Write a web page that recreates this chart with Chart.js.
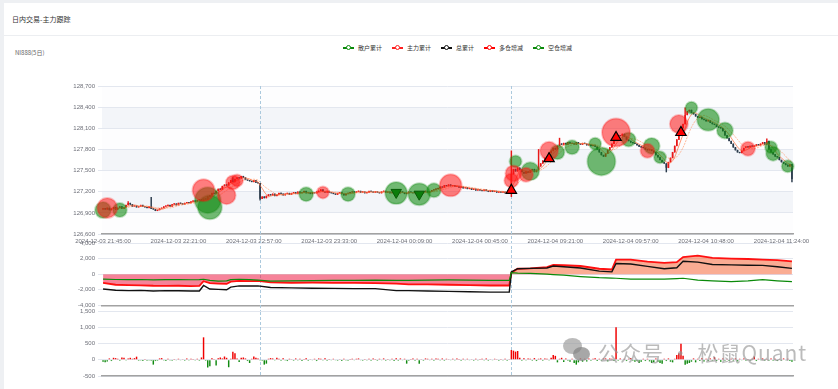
<!DOCTYPE html>
<html lang="zh">
<head>
<meta charset="UTF-8">
<title>日内交易-主力跟踪</title>
<script src="https://cdn.jsdelivr.net/npm/chart.js@4.4.1/dist/chart.umd.min.js"></script>
<style>
  body { margin: 0; width: 838px; height: 389px; background: #eef0f3; overflow: hidden;
         font-family: "Liberation Sans", "Noto Sans CJK SC", sans-serif; }
  .card { position: absolute; left: 4px; top: 3px; right: 0; bottom: 0; background: #fff; }
  .title { position: absolute; left: 12px; top: 14px; font-size: 7px; color: #333;
           font-family: "Noto Sans CJK SC", sans-serif; }
  .sep { position: absolute; left: 4px; right: 0; top: 35px; height: 1px; background: #eceef1; }
  .ylab { position: absolute; left: 15px; top: 48px; font-size: 6px; color: #666;
          font-family: "Noto Sans CJK SC", sans-serif; }
  .legend { position: absolute; top: 44px; left: 343px; display: flex; gap: 10px;
            font-size: 6px; color: #333; font-family: "Noto Sans CJK SC", sans-serif; line-height: 8px; }
  .legend span { display: flex; align-items: center; }
  .legend i { display: inline-block; position: relative; width: 11px; height: 1.5px; margin-right: 4px; }
  .legend i::after { content: ''; position: absolute; left: 2.5px; top: -2.6px; width: 3.5px; height: 3.5px;
                     border: 1.5px solid; border-color: inherit; border-radius: 50%; background: #fff; }
  canvas { position: absolute; left: 0; }
  .wm { position: absolute; left: 598px; top: 337px; font-size: 21px; color: rgba(150,150,150,0.65);
        font-family: "Noto Sans CJK SC", sans-serif; letter-spacing: 1px; }
  .wx1, .wx2 { position: absolute; border-radius: 50%; background: rgba(150,150,150,0.65); }
  .wx1 { left: 563px; top: 338px; width: 19px; height: 16px; }
  .wx2 { left: 573px; top: 347px; width: 17px; height: 14px; background: rgba(130,130,130,0.7); }
</style>
</head>
<body>
<div class="card"></div>
<div class="title">日内交易-主力跟踪</div>
<div class="sep"></div>
<div class="ylab">NI888(5日)</div>
<div class="legend" id="legend"></div>
<canvas id="main" width="838" height="180" style="top:70px"></canvas>
<canvas id="flow" width="838" height="76" style="top:236px"></canvas>
<canvas id="net" width="838" height="80" style="top:304px"></canvas>
<div class="wx1"></div><div class="wx2"></div>
<div class="wm">公众号 · 松鼠Quant</div>
<script>
// trading sessions (one bar per minute)
const sessions = [
  ['2024-12-03', '21:45', '23:59'],
  ['2024-12-04', '00:00', '00:59'],
  ['2024-12-04', '09:00', '10:14'],
  ['2024-12-04', '10:30', '11:29']
];
const breakLabels = ['2024-12-03 23:00:00', '2024-12-04 09:00:00'];
const legendNames = ['散户累计', '主力累计', '总累计', '多仓增减', '空仓增减'];
const legendColors = ['#0a8a0a', '#ff2020', '#111111', '#ff0000', '#0a8a0a'];

// minute closes
const firstOpen = 126950;
const closes = [
  126960,126950,126970,126940,126960,126980,126950,126970,126990,126960,
  126980,127010,127040,127020,126990,127000,126980,126990,127010,126990,
  126980,126970,126990,126960,126950,126930,126940,126960,126970,126990,
  127000,127010,126990,127020,127030,127010,127040,127030,127020,127040,
  127050,127040,127060,127070,127060,127080,127090,127070,127100,127090,
  127130,127150,127180,127170,127210,127240,127230,127280,127300,127290,
  127330,127360,127340,127380,127400,127390,127420,127400,127370,127360,
  127350,127340,127360,127330,127320,127100,127130,127110,127140,127160,
  127150,127170,127140,127160,127180,127170,127150,127170,127180,127160,
  127180,127190,127170,127200,127180,127190,127210,127180,127190,127170,
  127190,127180,127200,127210,127230,127200,127190,127210,127190,127180,
  127170,127160,127180,127190,127170,127150,127170,127180,127190,127200,
  127190,127200,127210,127190,127200,127180,127190,127210,127200,127190,
  127200,127190,127180,127200,127210,127190,127200,127180,127190,127200,
  127190,127180,127200,127190,127170,127180,127200,127190,127180,127200,
  127190,127170,127180,127200,127210,127190,127200,127220,127230,127240,
  127250,127270,127260,127290,127280,127300,127280,127290,127270,127280,
  127260,127270,127250,127260,127240,127250,127230,127240,127220,127230,
  127220,127210,127230,127210,127200,127220,127200,127210,127190,127200,
  127190,127200,127180,127190,127200,127450,127520,127490,127540,127510,
  127480,127460,127490,127470,127500,127520,127480,127510,127560,127600,
  127640,127680,127700,127750,127780,127820,127800,127850,127880,127870,
  127890,127870,127900,127880,127890,127870,127900,127880,127870,127890,
  127880,127860,127870,127850,127860,127840,127800,127760,127720,127700,
  127740,127790,127830,127880,127920,127960,128000,127990,128020,127980,
  127940,127920,127900,127890,127880,127860,127840,127830,127820,127800,
  127790,127800,127780,127760,127720,127690,127650,127620,127600,127540,
  127620,127680,127760,127850,127940,128020,128100,128160,128290,128340,
  128360,128320,128300,128270,128250,128260,128230,128220,128200,128210,
  128180,128160,128150,128120,128110,128100,128060,128000,127960,127920,
  127880,127830,127790,127760,127750,127780,127820,127840,127830,127850,
  127840,127850,127870,127860,127880,127900,127870,127920,127800,127760,
  127730,127700,127690,127650,127620,127600,127580,127560,127590,127380
];
// long shadows
const wickIdx  = [12, 23, 62, 75, 195, 208, 218, 269, 278, 317, 329];
const wickHigh = [127060, 127120, 127400, null, 127780, 127800, 127960, null, 128390, 127950, null];
const wickLow  = [null, null, null, 127080, 127130, null, null, 127480, null, null, 127340];

// 多仓增减 bubbles
const longIdx  = [2, 48, 59, 62, 64, 105, 166, 195, 196, 202, 213, 245, 260, 275, 308];
const longPx   = [126970, 127220, 127150, 127330, 127360, 127190, 127290, 127360, 127460, 127440, 127780, 128040, 127780, 128160, 127810];
const longSize = [10, 11, 9, 7, 6, 6, 11, 7, 8, 7, 9, 14, 7, 9, 7];
// 空仓增减 bubbles
const shortIdx  = [0, 8, 50, 51, 97, 117, 140, 151, 158, 197, 204, 217, 224, 235, 238, 251, 262, 266, 281, 289, 297, 319, 320, 327];
const shortPx   = [126940, 126940, 127080, 126980, 127165, 127165, 127180, 127165, 127220, 127630, 127490, 127760, 127830, 127880, 127630, 127940, 127850, 127690, 128390, 128220, 128070, 127830, 127740, 127560];
const shortSize = [8, 7, 13, 12, 7, 7, 11, 11, 7, 6, 9, 7, 7, 6, 14, 7, 8, 6, 6, 11, 8, 6, 7, 6];
// signals
const buyIdx  = [195, 213, 245, 276];
const buyPx   = [127220, 127670, 127970, 128040];
const sellIdx = [140, 151];
const sellPx  = [127190, 127165];

// cumulative flows (sampled)
const flowIdx = [0, 6, 12, 18, 24, 30, 36, 42, 46, 48, 51, 55, 59, 61, 65, 70, 74, 80, 90, 100, 110, 120, 130, 140, 146, 155, 165, 175, 185, 194,
                 195, 198, 204, 212, 215, 220, 228, 237, 243, 245, 252, 260, 268, 274, 277, 284, 291, 300, 308, 315, 322, 329];
const retailCum = [-625, -680, -700, -680, -720, -700, -690, -710, -700, -650, -800, -900, -850, -700, -650, -700, -750, -880, -850, -820, -800, -780, -760, -800, -780, -750, -740, -760, -780, -800,
                   200, 150, 100, 0, -50, -125, -300, -450, -500, -520, -625, -620, -625, -560, -520, -750, -850, -960, -850, -700, -850, -960];
const mainCum = [-1125, -1350, -1400, -1420, -1480, -1500, -1480, -1520, -1500, -900, -1150, -1200, -1250, -950, -850, -880, -850, -1050, -1100, -1080, -1100, -1120, -1150, -1200, -1300, -1300, -1350, -1400, -1450, -1450,
                 200, 700, 750, 900, 1200, 1150, 1050, 700, 600, 1875, 1875, 1600, 1450, 1550, 2200, 2375, 2100, 2000, 1950, 1875, 1800, 1650];
const totalCum = [-1900, -2050, -2100, -2080, -2150, -2100, -2120, -2150, -2150, -1450, -1900, -1950, -2000, -1650, -1500, -1520, -1500, -1700, -1750, -1800, -1820, -1850, -1850, -2100, -2100, -2150, -2200, -2250, -2300, -2300,
                  300, 700, 750, 800, 1050, 950, 800, 400, 300, 1375, 1300, 1000, 700, 825, 1650, 1550, 1250, 1200, 1150, 1125, 950, 750];

// per-minute net main flow
const netFlow = [
  -60,-80,-50,40,-40,60,50,30,-30,70,
  60,-20,40,60,30,50,95,-30,-20,-40,
  20,-30,-20,-30,-150,-40,-30,40,50,-20,
  -40,30,-20,-30,20,-20,30,-20,20,-30,
  40,-20,30,20,-20,30,-30,70,690,-30,
  -240,-200,50,20,-180,50,70,40,100,60,
  -230,30,250,200,40,-70,60,70,40,-40,
  -100,30,100,60,40,-20,-30,-150,-120,30,
  50,40,-20,60,30,-30,50,-20,-40,30,
  20,-30,40,-20,30,-40,20,50,-30,20,
  -20,30,-40,40,30,-20,50,-30,20,-20,
  30,-20,-30,20,-40,30,-20,-30,20,30,
  -20,30,40,-20,-30,20,-20,30,-30,40,
  20,-30,30,-20,40,-30,20,-20,30,-40,
  50,-30,40,-20,30,-120,-30,20,40,-30,
  30,-120,20,-30,40,30,-20,30,-30,40,
  30,-20,40,-30,30,20,-20,30,-20,40,
  20,-30,30,-20,30,-20,20,-30,30,-20,
  20,30,-20,40,-30,20,-20,30,20,-30,
  20,-20,30,-30,20,300,280,250,270,60,
  -30,50,-20,40,30,-30,50,-40,30,40,
  -30,40,30,-20,60,150,120,-80,30,60,
  -70,40,-30,-60,30,-100,-150,-80,40,-60,
  30,-50,40,-30,30,50,-40,30,-30,40,
  40,-50,40,30,-40,1000,-30,40,-20,30,
  -40,30,50,-30,-60,-40,-100,-60,30,-40,
  30,-50,-100,-80,40,-60,-100,-120,30,-40,
  40,-60,-80,30,150,200,490,120,-150,-120,
  -100,-60,40,-80,30,-40,50,-50,30,-40,
  40,-30,80,-40,30,-60,40,-30,20,-40,
  30,-30,40,-50,30,-20,40,-30,20,-30,
  30,100,-40,30,-20,40,-30,20,-30,40,
  -30,30,-40,20,-30,40,-20,30,-40,-60
];

// ---- build labels ----
const labels = [];
const toMin = s => Number(s.slice(0, 2)) * 60 + Number(s.slice(3, 5));
sessions.forEach(([day, from, to]) => {
  for (let m = toMin(from); m <= toMin(to); m++) {
    const hh = String(Math.floor(m / 60)).padStart(2, '0');
    const mm = String(m % 60).padStart(2, '0');
    labels.push(`${day} ${hh}:${mm}:00`);
  }
});

// legend
document.getElementById('legend').innerHTML = legendNames.map((n, i) =>
  `<span><i style="background:${legendColors[i]};border-color:${legendColors[i]}"></i>${n}</span>`).join('');

// candles
const UP = '#e81818', DOWN = '#2b3b4c';
const opens = closes.map((c, i) => i === 0 ? firstOpen : closes[i - 1]);
const bodies = closes.map((c, i) => [opens[i], c]);
const wicks = closes.map((c, i) => {
  let lo = Math.min(opens[i], c), hi = Math.max(opens[i], c);
  const k = wickIdx.indexOf(i);
  if (k >= 0) {
    if (wickHigh[k] != null) hi = wickHigh[k];
    if (wickLow[k] != null) lo = wickLow[k];
  }
  return [lo, hi];
});
const candleColors = closes.map((c, i) => c >= opens[i] ? UP : DOWN);

// moving averages of the closes
function movingAvg(n) {
  return closes.map((c, i) => {
    if (i < n - 1) return null;
    let s = 0;
    for (let j = i - n + 1; j <= i; j++) s += closes[j];
    return s / n;
  });
}

const pts = (idx, vals, sizes) => idx.map((i, k) => sizes ? { x: labels[i], y: vals[k], r: sizes[k] } : { x: labels[i], y: vals[k] });

Chart.defaults.font.family = '"Liberation Sans", sans-serif';
Chart.defaults.font.size = 6;
Chart.defaults.color = '#6e7079';

const sessionLines = {
  id: 'sessionLines',
  beforeDatasetsDraw(chart, args, opts) {
    const { ctx, chartArea, scales: { x } } = chart;
    const top = opts.top != null ? opts.top : chartArea.top;
    const bottom = opts.toEdge ? chart.height : chartArea.bottom;
    ctx.save();
    ctx.strokeStyle = '#abc9dd';
    ctx.lineWidth = 1;
    ctx.setLineDash([3, 2]);
    breakLabels.forEach(lab => {
      const px = Math.round(x.getPixelForValue(labels.indexOf(lab))) + 0.5;
      ctx.beginPath();
      ctx.moveTo(px, top);
      ctx.lineTo(px, bottom);
      ctx.stroke();
    });
    ctx.restore();
  }
};

const splitArea = {
  id: 'splitArea',
  beforeDraw(chart) {
    const { ctx, chartArea, scales: { y } } = chart;
    const ticks = y.ticks.map(t => t.value).sort((a, b) => a - b);
    ctx.save();
    for (let i = 0; i < ticks.length - 1; i++) {
      ctx.fillStyle = i % 2 === 1 ? '#f3f5f9' : '#fdfdfe';
      const y1 = y.getPixelForValue(ticks[i + 1]), y0 = y.getPixelForValue(ticks[i]);
      ctx.fillRect(chartArea.left, y1, chartArea.right - chartArea.left, y0 - y1);
    }
    ctx.restore();
  }
};

const yWidth = s => { s.width = 102; };
const gridColor = '#e3e7ef';
const axisLine = { color: '#a2a2a2', width: 1.5 };

// ---- main price chart ----
new Chart(document.getElementById('main'), {
  type: 'bar',
  data: {
    labels: labels,
    datasets: [
      { type: 'scatter', data: pts(buyIdx, buyPx), pointStyle: 'triangle', radius: 6,
        backgroundColor: '#ff0000', borderColor: '#000', borderWidth: 1.2, order: 1 },
      { type: 'scatter', data: pts(sellIdx, sellPx), pointStyle: 'triangle', rotation: 180, radius: 6,
        backgroundColor: '#0b7d0b', borderColor: '#075a07', borderWidth: 1, order: 1 },
      { type: 'bubble', label: legendNames[3], data: pts(longIdx, longPx, longSize),
        backgroundColor: 'rgba(255,20,20,0.55)', borderColor: 'rgba(255,20,20,0.25)', borderWidth: 2, order: 2 },
      { type: 'bubble', label: legendNames[4], data: pts(shortIdx, shortPx, shortSize),
        backgroundColor: 'rgba(20,140,20,0.6)', borderColor: 'rgba(20,140,20,0.25)', borderWidth: 2, order: 3 },
      { type: 'line', data: movingAvg(5), borderColor: 'rgba(255,110,60,0.9)', borderWidth: 0.8,
        pointRadius: 0, tension: 0.3, order: 4 },
      { type: 'line', data: movingAvg(10), borderColor: 'rgba(255,150,100,0.8)', borderWidth: 0.8,
        borderDash: [2, 1], pointRadius: 0, tension: 0.3, order: 4 },
      { data: bodies, backgroundColor: candleColors, grouped: false, barPercentage: 0.75,
        categoryPercentage: 1, minBarLength: 1, order: 5 },
      { data: wicks, backgroundColor: candleColors, grouped: false, barThickness: 0.8, order: 6 }
    ]
  },
  options: {
    responsive: false, animation: false, locale: 'en-US',
    layout: { padding: { top: 15, right: 45, left: 0, bottom: 0 } },
    plugins: { legend: { display: false }, tooltip: { enabled: false }, sessionLines: { toEdge: true } },
    scales: {
      x: {
        offset: true,
        grid: { display: false, drawTicks: false },
        border: axisLine,
        ticks: {
          autoSkip: false, maxRotation: 0, minRotation: 0, padding: 4,
          callback(v) { return v % 36 === 0 ? this.getLabelForValue(v) : null; }
        },
        afterFit(s) { s.height = 16; }
      },
      y: {
        min: 126600, max: 128700,
        ticks: { stepSize: 300, padding: 3 },
        grid: { color: gridColor, tickLength: 4 },
        border: { display: false },
        afterFit: yWidth
      }
    }
  },
  plugins: [splitArea, sessionLines]
});

// ---- cumulative flow panel ----
new Chart(document.getElementById('flow'), {
  type: 'line',
  data: {
    labels: labels,
    datasets: [
      { label: legendNames[0], data: pts(flowIdx, retailCum), borderColor: '#0a8a0a', borderWidth: 1.2, pointRadius: 0 },
      { label: legendNames[2], data: pts(flowIdx, totalCum), borderColor: '#111', borderWidth: 1.4, pointRadius: 0 },
      { label: legendNames[1], data: pts(flowIdx, mainCum), borderColor: '#ff1010', borderWidth: 1.8, pointRadius: 0,
        fill: { target: { value: 0 }, above: 'rgba(246,90,40,0.5)', below: 'rgba(238,30,70,0.55)' } }
    ]
  },
  options: {
    responsive: false, animation: false, locale: 'en-US',
    layout: { padding: { top: 7, right: 45, left: 0, bottom: 0 } },
    plugins: { legend: { display: false }, tooltip: { enabled: false }, sessionLines: { top: 14, toEdge: true } },
    scales: {
      x: { offset: true, ticks: { display: false }, grid: { display: false, drawTicks: false },
           border: axisLine, afterFit(s) { s.height = 5; } },
      y: { min: -4000, max: 4000, ticks: { stepSize: 2000, padding: 3 },
           grid: { color: gridColor, tickLength: 4 }, border: { display: false }, afterFit: yWidth }
    }
  },
  plugins: [sessionLines]
});

// ---- net flow bars ----
new Chart(document.getElementById('net'), {
  type: 'bar',
  data: {
    labels: labels,
    datasets: [{
      data: netFlow,
      backgroundColor: netFlow.map(v => v >= 0 ? '#f00000' : '#118a11'),
      barPercentage: 0.7, categoryPercentage: 1
    }]
  },
  options: {
    responsive: false, animation: false, locale: 'en-US',
    layout: { padding: { top: 7, right: 45, left: 0, bottom: 0 } },
    plugins: { legend: { display: false }, tooltip: { enabled: false }, sessionLines: { top: 8 } },
    scales: {
      x: { offset: true, ticks: { display: false }, grid: { display: false, drawTicks: false },
           border: axisLine, afterFit(s) { s.height = 8; } },
      y: { min: -500, max: 1500, ticks: { stepSize: 500, padding: 3 },
           grid: { color: gridColor, tickLength: 4 }, border: { display: false }, afterFit: yWidth }
    }
  },
  plugins: [sessionLines]
});
</script>
</body>
</html>
